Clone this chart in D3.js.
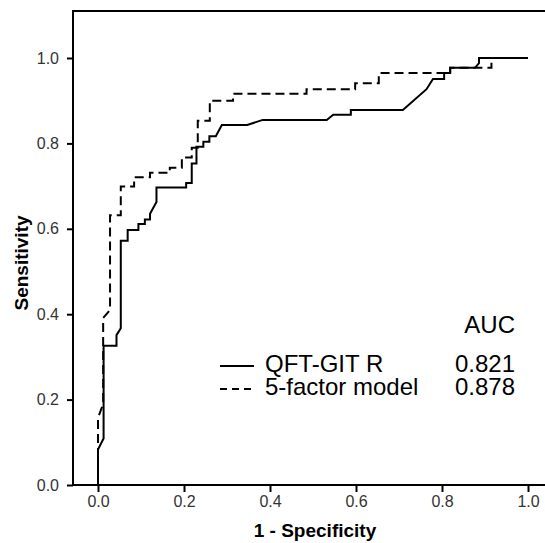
<!DOCTYPE html>
<html>
<head>
<meta charset="utf-8">
<script src="https://cdn.jsdelivr.net/npm/d3@7"></script>
<style>
  body { margin: 0; background: #fff; }
  svg { display: block; }
</style>
</head>
<body>
<div id="chart"></div>
<script>
// ROC curve points (1 - specificity, sensitivity)
const qftFpr = [0, 0, 0.013, 0.013, 0.043, 0.043, 0.053, 0.053, 0.069, 0.069, 0.094, 0.094, 0.109, 0.109, 0.121, 0.121, 0.136, 0.136, 0.205, 0.205, 0.218, 0.218, 0.229, 0.229, 0.245, 0.245, 0.259, 0.259, 0.274, 0.288, 0.347, 0.383, 0.532, 0.547, 0.588, 0.588, 0.709, 0.764, 0.779, 0.805, 0.805, 0.819, 0.819, 0.877, 0.886, 0.886, 1];
const qftTpr = [0, 0.083, 0.109, 0.326, 0.326, 0.351, 0.367, 0.572, 0.572, 0.597, 0.597, 0.611, 0.611, 0.622, 0.622, 0.635, 0.663, 0.697, 0.697, 0.707, 0.707, 0.753, 0.753, 0.792, 0.792, 0.804, 0.804, 0.817, 0.817, 0.843, 0.843, 0.855, 0.855, 0.867, 0.867, 0.878, 0.878, 0.927, 0.951, 0.951, 0.965, 0.965, 0.977, 0.977, 0.988, 1, 1];

const fiveFpr = [0, 0, 0.012, 0.012, 0.028, 0.028, 0.053, 0.053, 0.084, 0.084, 0.121, 0.121, 0.167, 0.167, 0.195, 0.195, 0.218, 0.218, 0.232, 0.232, 0.26, 0.26, 0.314, 0.314, 0.485, 0.485, 0.598, 0.598, 0.653, 0.653, 0.819, 0.819, 0.915, 0.915, 1];
const fiveTpr = [0, 0.157, 0.19, 0.391, 0.41, 0.632, 0.632, 0.699, 0.699, 0.721, 0.721, 0.731, 0.731, 0.743, 0.743, 0.767, 0.767, 0.79, 0.79, 0.853, 0.853, 0.9, 0.9, 0.916, 0.916, 0.927, 0.927, 0.941, 0.941, 0.965, 0.965, 0.977, 0.977, 1, 1];

const seriesNames = ["QFT-GIT R", "5-factor model"];
const aucValues = ["0.821", "0.878"];
const xTicks = [0, 0.2, 0.4, 0.6, 0.8, 1.0];
const yTicks = [0, 0.2, 0.4, 0.6, 0.8, 1.0];

const width = 545;
const height = 543;
const font = "'Liberation Sans', Arial, sans-serif";

const svg = d3.select("#chart")
    .append("svg")
    .attr("width", width)
    .attr("height", height);

// Scales
const x = d3.scaleLinear().domain([0, 1]).range([98, 528]);
const y = d3.scaleLinear().domain([0, 1]).range([485, 58]);

const plotLeft = 73;
const plotTop = 11;

// Plot frame
svg.append("rect")
    .attr("x", plotLeft)
    .attr("y", plotTop)
    .attr("width", width + 5 - plotLeft)
    .attr("height", y(0) - plotTop)
    .attr("fill", "none")
    .attr("stroke", "#000")
    .attr("stroke-width", 2);

// Axes
const xAxis = svg.append("g")
    .attr("transform", `translate(0, ${y(0)})`)
    .call(d3.axisBottom(x).tickValues(xTicks).tickSize(7).tickPadding(4).tickFormat(d3.format(".1f")));

const yAxis = svg.append("g")
    .attr("transform", `translate(${plotLeft}, 0)`)
    .call(d3.axisLeft(y).tickValues(yTicks).tickSize(6).tickPadding(8).tickFormat(d3.format(".1f")));

[xAxis, yAxis].forEach(g => {
    g.select(".domain").remove();
    g.selectAll(".tick line").attr("stroke", "#000").attr("stroke-width", 2);
    g.selectAll(".tick text")
        .attr("fill", "#333")
        .style("font-family", font)
        .style("font-size", "16px");
});

// Axis titles
svg.append("text")
    .attr("x", 315)
    .attr("y", 537)
    .attr("text-anchor", "middle")
    .style("font-family", font)
    .style("font-size", "19px")
    .style("font-weight", "bold")
    .text("1 - Specificity");

svg.append("text")
    .attr("transform", "translate(28, 263) rotate(-90)")
    .attr("text-anchor", "middle")
    .style("font-family", font)
    .style("font-size", "19px")
    .style("font-weight", "bold")
    .text("Sensitivity");

// ROC curves
const line = d3.line()
    .x(d => x(d[0]))
    .y(d => y(d[1]));

const curves = [
    { name: seriesNames[0], points: d3.zip(qftFpr, qftTpr), dash: null },
    { name: seriesNames[1], points: d3.zip(fiveFpr, fiveTpr), dash: "9,5" }
];

svg.selectAll(".curve")
    .data(curves)
    .enter()
    .append("path")
    .attr("class", "curve")
    .attr("d", d => line(d.points))
    .attr("fill", "none")
    .attr("stroke", "#000")
    .attr("stroke-width", 2)
    .attr("stroke-dasharray", d => d.dash);

// Legend
svg.append("text")
    .attr("x", 515)
    .attr("y", 333)
    .attr("text-anchor", "end")
    .style("font-family", font)
    .style("font-size", "24px")
    .text("AUC");

const legend = svg.selectAll(".legend")
    .data(curves)
    .enter()
    .append("g")
    .attr("class", "legend")
    .attr("transform", (d, i) => `translate(0, ${372 + i * 23})`);

legend.append("line")
    .attr("x1", 220)
    .attr("x2", 254)
    .attr("y1", -6)
    .attr("y2", -6)
    .attr("stroke", "#000")
    .attr("stroke-width", 2)
    .attr("stroke-dasharray", d => d.dash ? "7,5" : null);

legend.append("text")
    .attr("x", 265)
    .style("font-family", font)
    .style("font-size", "24px")
    .text(d => d.name);

legend.append("text")
    .attr("x", 515)
    .attr("text-anchor", "end")
    .style("font-family", font)
    .style("font-size", "24px")
    .text((d, i) => aucValues[i]);
</script>
</body>
</html>
